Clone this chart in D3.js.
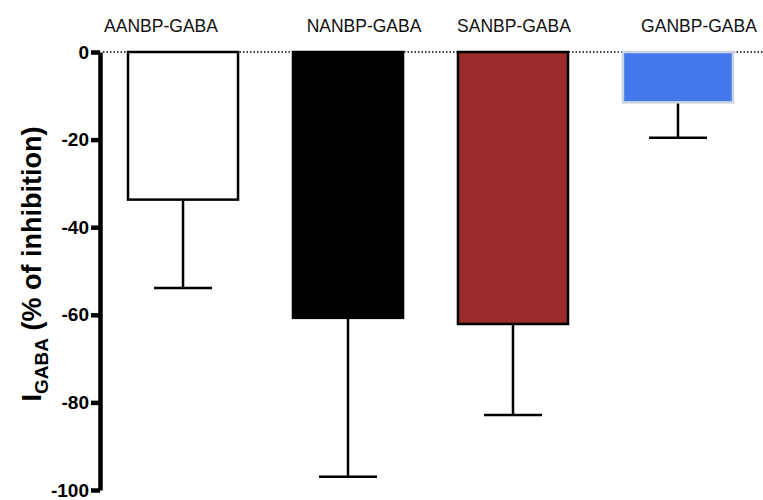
<!DOCTYPE html>
<html>
<head>
<meta charset="utf-8">
<script src="https://cdn.jsdelivr.net/npm/d3@7"></script>
<style>
  body { margin: 0; background: #fff; }
  svg { display: block; font-family: "Liberation Sans", Arial, sans-serif; }
</style>
</head>
<body>
<svg id="chart" width="763" height="500"></svg>
<script>
// I_GABA inhibition by each ANBP-GABA conjugate
var categories = ["AANBP-GABA", "NANBP-GABA", "SANBP-GABA", "GANBP-GABA"];
var means      = [-33.7, -60.7, -62.1, -11.5];
var errors     = [20.2, 36.3, 20.8, 8.1];
var yTicks     = [0, -20, -40, -60, -80, -100];

var fills   = ["#ffffff", "#000000", "#9b2b2b", "#4479ee"];
var strokes = ["#000000", "#000000", "#000000", "#c9d3e4"];
// labels in the original sit a bit off the bar centres
var labelShift = [-22, 16, 1, 21];

var svg = d3.select("#chart");

var x = d3.scaleBand()
    .domain(categories)
    .range([128, 733])
    .paddingInner(0.333)
    .paddingOuter(0);

var y = d3.scaleLinear()
    .domain([0, -100])
    .range([52, 490]);

// dotted zero line
svg.append("line")
   .attr("x1", 103).attr("x2", 763)
   .attr("y1", y(0)).attr("y2", y(0))
   .attr("stroke", "#000")
   .attr("stroke-width", 1.3)
   .attr("stroke-dasharray", "1.5,2");

// error bars (only the downward part shows below the bar)
var err = svg.append("g").selectAll("g")
    .data(categories)
    .enter().append("g");

err.append("line")
   .attr("x1", function (d) { return x(d) + x.bandwidth() / 2; })
   .attr("x2", function (d) { return x(d) + x.bandwidth() / 2; })
   .attr("y1", function (d, i) { return y(means[i]); })
   .attr("y2", function (d, i) { return y(means[i] - errors[i]); })
   .attr("stroke", "#000")
   .attr("stroke-width", 2.5);

err.append("line")
   .attr("x1", function (d) { return x(d) + x.bandwidth() / 2 - 29; })
   .attr("x2", function (d) { return x(d) + x.bandwidth() / 2 + 29; })
   .attr("y1", function (d, i) { return y(means[i] - errors[i]); })
   .attr("y2", function (d, i) { return y(means[i] - errors[i]); })
   .attr("stroke", "#000")
   .attr("stroke-width", 2.5);

// bars
svg.append("g").selectAll("rect")
   .data(categories)
   .enter().append("rect")
   .attr("x", function (d) { return x(d); })
   .attr("y", y(0))
   .attr("width", x.bandwidth())
   .attr("height", function (d, i) { return y(means[i]) - y(0); })
   .attr("fill", function (d, i) { return fills[i]; })
   .attr("stroke", function (d, i) { return strokes[i]; })
   .attr("stroke-width", 2.5);

// group labels on top
svg.append("g").selectAll("text")
   .data(categories)
   .enter().append("text")
   .attr("x", function (d, i) { return x(d) + x.bandwidth() / 2 + labelShift[i]; })
   .attr("y", 32)
   .attr("text-anchor", "middle")
   .style("font-size", "17.5px")
   .style("fill", "#111")
   .text(function (d) { return d; });

// y axis
var axis = svg.append("g")
    .attr("transform", "translate(100,0)")
    .call(d3.axisLeft(y)
        .tickValues(yTicks)
        .tickFormat(function (d) { return String(d); })
        .tickSize(9).tickPadding(2).tickSizeOuter(0));

axis.select(".domain")
    .attr("stroke-width", 4.5);
axis.selectAll(".tick line")
    .attr("stroke-width", 4.5);
axis.selectAll(".tick text")
    .style("font-size", "19px")
    .style("font-weight", "bold")
    .style("font-family", "'Liberation Sans', Arial, sans-serif")
    .style("fill", "#000");

// y axis title
var title = svg.append("text")
    .attr("transform", "translate(41,264) rotate(-90)")
    .attr("text-anchor", "middle")
    .style("font-size", "27px")
    .style("font-weight", "bold");
title.append("tspan").text("I");
title.append("tspan").attr("dy", 7).style("font-size", "19px").text("GABA");
title.append("tspan").attr("dy", -7).text(" (% of inhibition)");
</script>
</body>
</html>
